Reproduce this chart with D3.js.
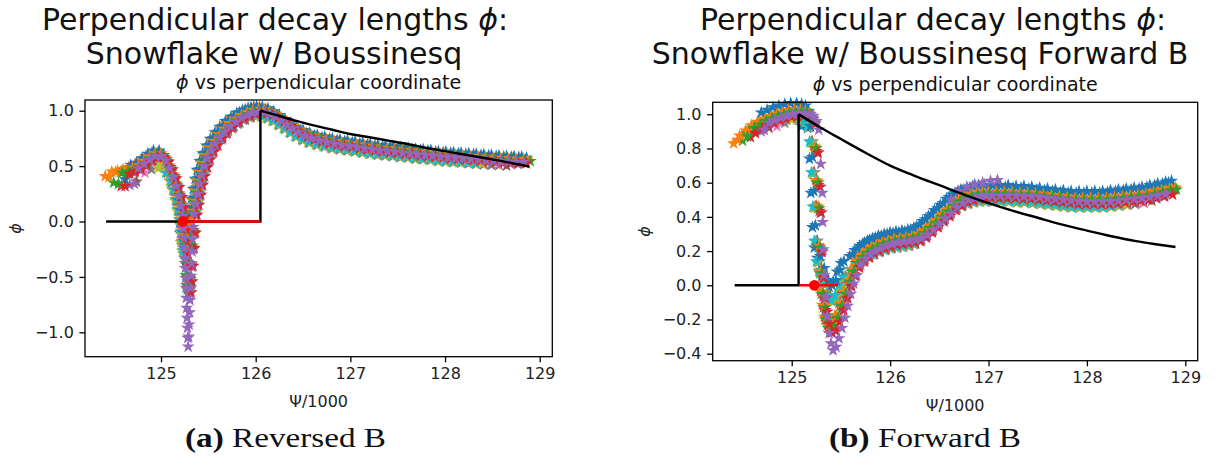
<!DOCTYPE html>
<html>
<head>
<meta charset="utf-8">
<script src="https://cdn.jsdelivr.net/npm/d3@7"></script>
<style>
body { margin: 0; background: #fff; }
svg { display: block; font-family: "DejaVu Sans", sans-serif; }
</style>
</head>
<body>
<svg id="chart" width="1227" height="466"></svg>
<script>
// matplotlib default colour cycle
var tab10 = ["#1f77b4", "#ff7f0e", "#2ca02c", "#d62728", "#9467bd",
             "#8c564b", "#e377c2", "#7f7f7f", "#bcbd22", "#17becf"];

// ---------- (a) Reversed B : phi along the runs ----------
var aHeadX = [124.41, 124.47, 124.53, 124.59, 124.65, 124.71, 124.77, 124.83, 124.89, 124.95, 125.00, 125.04, 125.08, 125.11, 125.14, 125.16, 125.18];
var aHeadY = [0.41, 0.43, 0.44, 0.45, 0.47, 0.49, 0.53, 0.57, 0.60, 0.60, 0.56, 0.49, 0.41, 0.33, 0.24, 0.15, 0.06];

var aDipShallowX = [125.195, 125.205, 125.215, 125.225, 125.24, 125.255, 125.27];
var aDipShallowY = [-0.05, -0.14, -0.22, -0.25, -0.18, -0.08, 0.0];
var aDipMidX = [125.19, 125.198, 125.206, 125.214, 125.222, 125.23, 125.238, 125.248, 125.258, 125.27, 125.285];
var aDipMidY = [-0.06, -0.16, -0.27, -0.38, -0.49, -0.58, -0.62, -0.52, -0.38, -0.22, -0.08];
var aDipDeepX = [125.185, 125.19, 125.195, 125.2, 125.205, 125.209, 125.213, 125.217, 125.221, 125.225, 125.229, 125.233, 125.237,
                 125.242, 125.247, 125.252, 125.257, 125.262, 125.267, 125.272, 125.278, 125.284, 125.291];
var aDipDeepY = [-0.05, -0.14, -0.23, -0.32, -0.41, -0.5, -0.59, -0.68, -0.77, -0.86, -0.95, -1.04, -1.12,
                 -1.03, -0.92, -0.81, -0.7, -0.59, -0.48, -0.37, -0.26, -0.15, -0.04];

var aTailX = [125.30, 125.32, 125.34, 125.36, 125.38, 125.41, 125.44, 125.48, 125.52, 125.57, 125.62, 125.68, 125.74, 125.80, 125.86,
              125.92, 125.98, 126.04, 126.10, 126.16, 126.22, 126.28, 126.34, 126.40, 126.47, 126.54, 126.62, 126.70, 126.78, 126.86,
              126.94, 127.02, 127.10, 127.18, 127.26, 127.34, 127.42, 127.50, 127.58, 127.66, 127.74, 127.82, 127.90, 127.98, 128.06,
              128.14, 128.22, 128.30, 128.38, 128.46, 128.54, 128.62, 128.70, 128.78, 128.86];
var aTailY = [0.08, 0.17, 0.26, 0.35, 0.43, 0.51, 0.58, 0.65, 0.71, 0.77, 0.82, 0.87, 0.91, 0.945, 0.97,
              0.99, 1.0, 0.995, 0.98, 0.955, 0.92, 0.885, 0.85, 0.815, 0.785, 0.76, 0.74, 0.725, 0.71, 0.70,
              0.69, 0.68, 0.67, 0.66, 0.65, 0.645, 0.64, 0.63, 0.625, 0.615, 0.61, 0.605, 0.595, 0.59, 0.585,
              0.58, 0.575, 0.57, 0.565, 0.56, 0.555, 0.55, 0.548, 0.545, 0.54];

// one entry per run
var aShiftX = [0.00, 0.01, 0.04, 0.06, 0.07, 0.03, 0.02, 0.03, 0.01, 0.02, 0.03, 0.05, 0.06, 0.08, 0.05];
var aShiftY = [0.035, 0.02, 0.005, -0.015, -0.03, -0.045, -0.04, -0.05, -0.045, -0.04, 0.04, 0.015, 0.0, -0.02, -0.01];
var aStartX = [125.11, 124.41, 124.50, 124.58, 124.67, 124.74, 124.83, 124.90, 124.97, 125.05, 124.62, 124.45, 124.55, 124.62, 124.72];
var aStartY = [0.35, 0.41, 0.35, 0.32, 0.33, 0.36, 0.44, 0.47, 0.48, 0.44, 0.38, 0.40, 0.34, 0.32, 0.34];
var aEndX = [128.90, 128.90, 128.92, 128.90, 128.80, 128.72, 128.62, 128.52, 128.45, 128.35, 128.88, 128.86, 128.92, 128.92, 128.85];
var aDip = ["s", "s", "m", "m", "m", "s", "s", "s", "s", "s", "s", "s", "m", "m", "d"];

// black step + decay line, then the red segment and dot
var aLineX = [124.42, 126.05, 126.05, 126.2, 126.4, 126.6, 126.8, 127.0, 127.2, 127.4, 127.6, 127.8, 128.0, 128.2, 128.4, 128.6, 128.89];
var aLineY = [0, 0, 1.0, 0.965, 0.915, 0.87, 0.83, 0.79, 0.76, 0.73, 0.70, 0.665, 0.635, 0.605, 0.575, 0.545, 0.495];
var aRedX = [125.23, 126.05];
var aRedY = [0, 0];
var aDot = [125.23, 0];

var aXTicks = [125, 126, 127, 128, 129];
var aYTicks = [-1.0, -0.5, 0.0, 0.5, 1.0];

// ---------- (b) Forward B ----------
var bHeadX = [124.41, 124.47, 124.53, 124.59, 124.65, 124.71, 124.77, 124.83, 124.89, 124.95, 125.01, 125.07, 125.12, 125.16, 125.19];
var bHeadY = [0.83, 0.86, 0.89, 0.92, 0.94, 0.96, 0.975, 0.99, 1.0, 1.01, 1.015, 1.015, 1.01, 1.0, 0.97];

var bDipShallowX = [125.21, 125.23, 125.245, 125.26, 125.28, 125.31, 125.35, 125.39, 125.43, 125.47, 125.51, 125.55];
var bDipShallowY = [0.88, 0.7, 0.5, 0.3, 0.18, 0.12, 0.05, -0.02, -0.05, -0.02, 0.04, 0.09];
var bDipMidX = [125.22, 125.24, 125.25, 125.26, 125.275, 125.29, 125.31, 125.33, 125.36, 125.40, 125.44, 125.48, 125.52, 125.56, 125.60];
var bDipMidY = [0.8, 0.6, 0.45, 0.22, 0.07, -0.05, -0.13, -0.2, -0.25, -0.24, -0.19, -0.12, -0.05, 0.02, 0.08];
var bDipDeepX = [125.215, 125.235, 125.25, 125.255, 125.26, 125.27, 125.285, 125.30, 125.32, 125.34, 125.36, 125.39, 125.42,
                 125.45, 125.48, 125.51, 125.54, 125.57, 125.60];
var bDipDeepY = [0.92, 0.72, 0.55, 0.38, 0.22, 0.07, -0.06, -0.17, -0.27, -0.33, -0.37, -0.35, -0.3,
                 -0.24, -0.18, -0.11, -0.04, 0.02, 0.07];

var bTailX = [125.64, 125.69, 125.74, 125.79, 125.84, 125.90, 125.96, 126.02, 126.08, 126.14, 126.20, 126.26, 126.32, 126.38,
              126.44, 126.50, 126.56, 126.62, 126.68, 126.74, 126.80, 126.86, 126.92, 126.98, 127.06, 127.14, 127.22, 127.30, 127.38,
              127.46, 127.54, 127.62, 127.70, 127.78, 127.86, 127.94, 128.02, 128.10, 128.18, 128.26, 128.34, 128.42, 128.50, 128.58,
              128.66, 128.74, 128.82, 128.88];
var bTailY = [0.13, 0.165, 0.19, 0.21, 0.225, 0.24, 0.25, 0.26, 0.265, 0.27, 0.275, 0.285, 0.305, 0.335,
              0.365, 0.40, 0.43, 0.465, 0.49, 0.51, 0.52, 0.53, 0.535, 0.535, 0.535, 0.535, 0.535, 0.53, 0.53,
              0.525, 0.52, 0.515, 0.51, 0.505, 0.50, 0.50, 0.50, 0.50, 0.50, 0.505, 0.51, 0.515, 0.52, 0.525,
              0.535, 0.545, 0.555, 0.56];
// the purple run that rides above the others near 127
var bBumpX = [126.62, 126.70, 126.78, 126.86, 126.94, 127.02, 127.09];
var bBumpY = [0.50, 0.55, 0.575, 0.59, 0.60, 0.61, 0.615];

var bShiftX = [-0.05, 0.0, 0.01, 0.03, 0.04, 0.0, -0.01, -0.01, -0.02, -0.03, -0.02, 0.02, 0.03, 0.05, 0.06];
var bShiftY = [0.04, 0.015, 0.0, -0.015, -0.025, -0.04, -0.04, -0.045, -0.045, -0.04, 0.05, 0.01, 0.0, -0.025, -0.01];
var bStartX = [125.10, 124.41, 124.50, 124.58, 124.69, 124.77, 124.85, 124.93, 125.00, 125.05, 124.62, 124.45, 124.55, 124.63, 124.72];
var bStartY = [0.93, 0.83, 0.846, 0.866, 0.90, 0.92, 0.93, 0.95, 0.97, 0.98, 0.91, 0.85, 0.87, 0.89, 0.91];
var bEndX = [128.90, 128.92, 128.92, 128.90, 128.80, 128.72, 128.62, 128.55, 128.45, 128.35, 128.90, 128.92, 128.92, 128.92, 128.85];
var bDip = ["s", "m", "m", "m", "m", "s", "s", "s", "s", "s", "s", "m", "m", "m", "d"];

var bLineX = [124.42, 125.07, 125.07, 125.3, 125.5, 125.75, 126.0, 126.25, 126.5, 126.75, 127.0, 127.25, 127.5, 127.75, 128.0, 128.25, 128.5, 128.7, 128.9];
var bLineY = [0, 0, 1.0, 0.92, 0.855, 0.775, 0.70, 0.64, 0.585, 0.53, 0.48, 0.435, 0.395, 0.355, 0.32, 0.287, 0.258, 0.24, 0.224];
var bRedX = [125.08, 125.47];
var bRedY = [0, 0];
var bDot = [125.23, 0];

var bXTicks = [125, 126, 127, 128, 129];
var bYTicks = [-0.4, -0.2, 0.0, 0.2, 0.4, 0.6, 0.8, 1.0];

var svg = d3.select("#chart");

// matplotlib style '*' marker
function starPath(R) {
    var r = R * 0.381966, pts = [];
    for (var k = 0; k < 10; k++) {
        var a = -Math.PI / 2 + k * Math.PI / 5;
        var rr = (k % 2 === 0) ? R : r;
        pts.push([rr * Math.cos(a), rr * Math.sin(a)]);
    }
    return "M" + pts.map(function(p) { return p[0].toFixed(2) + "," + p[1].toFixed(2); }).join("L") + "Z";
}
var star = starPath(5.1);

function drawPanel(p) {
    var x = d3.scaleLinear().domain(p.xDomain).range(p.xRange);
    var y = d3.scaleLinear().domain(p.yDomain).range(p.yRange);
    var g = svg.append("g");

    // runs, drawn in order so later colours sit on top
    p.dip.forEach(function(kind, i) {
        var cx = p.headX.concat(p.dips[kind][0], p.tailX);
        var cy = p.headY.concat(p.dips[kind][1], p.tailY);
        var pts = [[p.startX[i], p.startY[i]]];
        cx.forEach(function(v, k) {
            var xx = v + p.shiftX[i];
            if (xx > p.startX[i] + 0.025 && xx <= p.endX[i]) pts.push([xx, cy[k] + p.shiftY[i]]);
        });
        g.append("g").selectAll("path")
            .data(pts)
            .enter()
            .append("path")
            .attr("d", star)
            .attr("transform", function(d) { return "translate(" + x(d[0]) + "," + y(d[1]) + ")"; })
            .attr("fill", tab10[i % 10])
            .attr("stroke", tab10[i % 10])
            .attr("stroke-width", 1.1);
    });

    if (p.extraX) {
        g.append("g").selectAll("path")
            .data(d3.zip(p.extraX, p.extraY))
            .enter()
            .append("path")
            .attr("d", star)
            .attr("transform", function(d) { return "translate(" + x(d[0]) + "," + y(d[1]) + ")"; })
            .attr("fill", tab10[4])
            .attr("stroke", tab10[4])
            .attr("stroke-width", 1.1);
    }

    var pts = d3.zip(p.lineX, p.lineY);
    var straight = d3.line().x(function(d) { return x(d[0]); }).y(function(d) { return y(d[1]); });
    var smooth = d3.line().x(function(d) { return x(d[0]); }).y(function(d) { return y(d[1]); }).curve(d3.curveMonotoneX);
    // step part, then the smooth decay from the top of the jump
    g.append("path").datum(pts.slice(0, 3))
        .attr("d", straight).attr("fill", "none").attr("stroke", "#000").attr("stroke-width", 2.4);
    g.append("path").datum(pts.slice(2))
        .attr("d", smooth).attr("fill", "none").attr("stroke", "#000").attr("stroke-width", 2.4);
    g.append("path").datum(d3.zip(p.redX, p.redY))
        .attr("d", straight).attr("fill", "none").attr("stroke", "red").attr("stroke-width", 2.4);
    g.append("circle").attr("cx", x(p.dot[0])).attr("cy", y(p.dot[1])).attr("r", 5.4).attr("fill", "red");

    // frame
    g.append("rect")
        .attr("x", p.xRange[0]).attr("y", p.yRange[1])
        .attr("width", p.xRange[1] - p.xRange[0]).attr("height", p.yRange[0] - p.yRange[1])
        .attr("fill", "none").attr("stroke", "#000").attr("stroke-width", 1.3);

    var xa = g.append("g").attr("transform", "translate(0," + p.yRange[0] + ")")
        .call(d3.axisBottom(x).tickValues(p.xTicks).tickFormat(d3.format("d")).tickSize(5.6).tickPadding(5.6));
    var ya = g.append("g").attr("transform", "translate(" + p.xRange[0] + ",0)")
        .call(d3.axisLeft(y).tickValues(p.yTicks).tickFormat(d3.format(".1f")).tickSize(5.6).tickPadding(5.6));
    [xa, ya].forEach(function(a) {
        a.select(".domain").remove();
        a.selectAll(".tick line").attr("stroke", "#000").attr("stroke-width", 1.3);
        a.selectAll(".tick text").attr("fill", "#222").attr("font-size", "16px")
            .attr("font-family", "DejaVu Sans, sans-serif");
    });

    var mid = (p.xRange[0] + p.xRange[1]) / 2;
    g.append("text").attr("x", mid).attr("y", p.yRange[0] + 50)
        .attr("text-anchor", "middle").attr("font-size", "16px").attr("fill", "#222").text("Ψ/1000");
    g.append("text")
        .attr("transform", "translate(" + p.yLabelX + "," + ((p.yRange[0] + p.yRange[1]) / 2) + ") rotate(-90)")
        .attr("text-anchor", "middle").attr("font-size", "16px").attr("font-style", "italic").attr("fill", "#222").text("ϕ");

    var sub = g.append("text").attr("x", mid).attr("y", p.yRange[1] - 11)
        .attr("text-anchor", "middle").attr("font-size", "19px").attr("fill", "#111");
    sub.append("tspan").attr("font-style", "italic").text("ϕ");
    sub.append("tspan").text(" vs perpendicular coordinate");

    var t1 = g.append("text").attr("x", p.title1X).attr("y", 30)
        .attr("text-anchor", "middle").attr("font-size", "30px").attr("fill", "#111");
    t1.append("tspan").text("Perpendicular decay lengths ");
    t1.append("tspan").attr("font-style", "italic").text("ϕ");
    t1.append("tspan").text(":");
    g.append("text").attr("x", p.title2X).attr("y", 64)
        .attr("text-anchor", "middle").attr("font-size", "30px").attr("fill", "#111").text(p.title2);

    var cap = g.append("text").attr("x", p.capX).attr("y", 447)
        .attr("font-family", "Liberation Serif, serif").attr("font-size", "28px").attr("fill", "#111")
        .attr("textLength", p.capW).attr("lengthAdjust", "spacingAndGlyphs");
    cap.append("tspan").attr("font-weight", "bold").text(p.capTag);
    cap.append("tspan").text(" " + p.capText);
}

drawPanel({
    xDomain: [124.197, 129.133], xRange: [85, 552.3],
    yDomain: [-1.220, 1.0966], yRange: [356.7, 100],
    headX: aHeadX, headY: aHeadY, tailX: aTailX, tailY: aTailY,
    dips: { s: [aDipShallowX, aDipShallowY], m: [aDipMidX, aDipMidY], d: [aDipDeepX, aDipDeepY] },
    shiftX: aShiftX, shiftY: aShiftY, startX: aStartX, startY: aStartY, endX: aEndX, dip: aDip,
    lineX: aLineX, lineY: aLineY, redX: aRedX, redY: aRedY, dot: aDot,
    xTicks: aXTicks, yTicks: aYTicks, yLabelX: 21,
    title1X: 275, title2X: 274, title2: "Snowflake w/ Boussinesq",
    capX: 185, capW: 201, capTag: "(a)", capText: "Reversed B"
});

drawPanel({
    xDomain: [124.197, 129.126], xRange: [712.7, 1197.7],
    yDomain: [-0.441, 1.070], yRange: [360.7, 102.3],
    headX: bHeadX, headY: bHeadY, tailX: bTailX, tailY: bTailY,
    dips: { s: [bDipShallowX, bDipShallowY], m: [bDipMidX, bDipMidY], d: [bDipDeepX, bDipDeepY] },
    shiftX: bShiftX, shiftY: bShiftY, startX: bStartX, startY: bStartY, endX: bEndX, dip: bDip,
    extraX: bBumpX, extraY: bBumpY,
    lineX: bLineX, lineY: bLineY, redX: bRedX, redY: bRedY, dot: bDot,
    xTicks: bXTicks, yTicks: bYTicks, yLabelX: 650,
    title1X: 933, title2X: 920, title2: "Snowflake w/ Boussinesq Forward B",
    capX: 829, capW: 192, capTag: "(b)", capText: "Forward B"
});
</script>
</body>
</html>
